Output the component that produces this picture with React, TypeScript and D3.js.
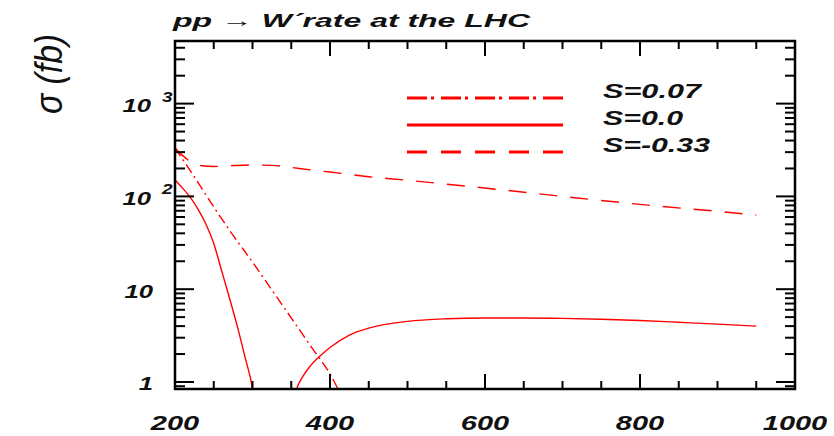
import React from 'react';
import * as d3 from 'd3';

const W = 834;
const H = 436;

// W' mass (GeV) on x, cross-section sigma (fb) on a log y axis
const xDomain = [200, 1000];
const yDomain = [0.84, 4730];
const xTickValues = d3.range(200, 1001, 50);
const xLabelValues = [200, 400, 600, 800, 1000];
const yLabelValues = [1, 10, 100, 1000];

// S = 0.07 (dash-dot)
const massDashDot = [200, 225, 250, 275, 300, 325, 350, 375, 400, 415];
const sigmaDashDot = [333, 162, 77, 38, 19.6, 9.8, 4.9, 2.44, 1.22, 0.7];

// S = 0.0 (solid), falling branch and rising branch around the interference zero
const massSolidLow = [200, 210, 220, 230, 240, 250, 260, 270, 280, 290, 300, 305];
const sigmaSolidLow = [150, 122, 97, 72, 50, 31, 16, 8.2, 4.1, 1.9, 0.84, 0.4];
const massSolidHigh = [350, 357, 365, 375, 390, 400, 425, 450, 500, 550, 600, 650, 700, 750, 800, 850, 900, 950];
const sigmaSolidHigh = [0.45, 0.84, 1.15, 1.5, 2.0, 2.35, 3.2, 3.8, 4.5, 4.8, 4.9, 4.9, 4.85, 4.75, 4.6, 4.4, 4.2, 4.0];

// S = -0.33 (dashed)
const massDashed = [200, 210, 220, 235, 250, 275, 300, 325, 350, 375, 400, 450, 500, 600, 700, 800, 900, 950];
const sigmaDashed = [333, 275, 237, 214, 210, 215, 218, 216, 205, 193, 183, 163, 149, 123, 100, 82, 69, 63];

const legendLabels = ['S=0.07', 'S=0.0', 'S=-0.33'];
const titleText = 'pp \u2192 W\u00B4rate at the LHC';
const yAxisTitle = '\u03C3 (fb)';

const RED = '#ff0000';
const FONT = '"Liberation Sans", Arial, Helvetica, sans-serif';

const plot = { left: 175, right: 795, top: 41, bottom: 389 };

const zip = (xs: number[], ys: number[]) => xs.map((m, i) => [m, ys[i]] as [number, number]);

export default function App() {
  const x = d3.scaleLinear().domain(xDomain).range([plot.left, plot.right]);
  const y = d3.scaleLog().domain(yDomain).range([plot.bottom, plot.top]);

  const line = d3
    .line<[number, number]>()
    .x((d) => x(d[0]))
    .y((d) => y(d[1]))
    .curve(d3.curveMonotoneX);

  const curves = [
    { data: zip(massDashDot, sigmaDashDot), dash: '10,4,2,4' },
    { data: zip(massSolidLow, sigmaSolidLow), dash: 'none' },
    { data: zip(massSolidHigh, sigmaSolidHigh), dash: 'none' },
    { data: zip(massDashed, sigmaDashed), dash: '18,13' },
  ];

  // log ticks: 1..9 x 10^k inside the domain
  const yTicks: { v: number; major: boolean }[] = [];
  for (let k = -1; k <= 3; k++) {
    for (let m = 1; m <= 9; m++) {
      const v = m * Math.pow(10, k);
      if (v >= yDomain[0] && v <= yDomain[1]) yTicks.push({ v, major: m === 1 });
    }
  }

  const legendDash = ['20,4,3,7', 'none', '20,14'];
  const legendY = [98, 125, 152];
  const legendTextLen = [98, 80, 107];

  const yLabStretch = 1.35;
  const xLabStretch = 1.38;

  return (
    <svg
      width={W}
      height={H}
      style={{ position: 'fixed', left: 0, top: 0, background: '#fff' }}
      fontFamily={FONT}
    >
      <defs>
        <clipPath id="plotClip">
          <rect x={plot.left} y={plot.top} width={plot.right - plot.left} height={plot.bottom - plot.top} />
        </clipPath>
      </defs>
      <rect x={0} y={0} width={W} height={H} fill="#fff" />

      {/* title */}
      <text
        x={173}
        y={27}
        fontSize={19}
        fontWeight="bold"
        fontStyle="italic"
        fill="#111"
        textLength={357}
        lengthAdjust="spacingAndGlyphs"
      >
        {titleText}
      </text>

      {/* y axis title, reading bottom to top */}
      <g transform="translate(62,74) scale(1.4,1) rotate(-90)">
        <text
          x={0}
          y={0}
          textAnchor="middle"
          fontSize={28}
          fontStyle="italic"
          fill="#111"
          textLength={80}
          lengthAdjust="spacingAndGlyphs"
        >
          {yAxisTitle}
        </text>
      </g>

      {/* curves */}
      <g clipPath="url(#plotClip)">
        {curves.map((c, i) => (
          <path
            key={i}
            d={line(c.data) || ''}
            fill="none"
            stroke={RED}
            strokeWidth={1.4}
            strokeDasharray={c.dash}
          />
        ))}
      </g>

      {/* ticks on all four sides, pointing inward */}
      <g stroke="#000" strokeWidth={2}>
        {xTickValues.map((v) => {
          const len = v % 200 === 0 ? 15 : 8;
          const px = x(v);
          return (
            <g key={v}>
              <line x1={px} x2={px} y1={plot.bottom} y2={plot.bottom - len} />
              <line x1={px} x2={px} y1={plot.top} y2={plot.top + len} />
            </g>
          );
        })}
        {yTicks.map((t) => {
          const len = t.major ? 19 : 10;
          const py = y(t.v);
          return (
            <g key={t.v}>
              <line x1={plot.left} x2={plot.left + len} y1={py} y2={py} />
              <line x1={plot.right} x2={plot.right - len} y1={py} y2={py} />
            </g>
          );
        })}
      </g>

      {/* frame */}
      <rect
        x={plot.left}
        y={plot.top}
        width={plot.right - plot.left}
        height={plot.bottom - plot.top}
        fill="none"
        stroke="#000"
        strokeWidth={2.5}
      />

      {/* x tick labels */}
      <g fontSize={21} fontWeight="bold" fontStyle="italic" fill="#111">
        {xLabelValues.map((v) => (
          <text key={v} transform={`translate(${x(v)},430) scale(${xLabStretch},1)`} textAnchor="middle">
            {String(v)}
          </text>
        ))}
      </g>

      {/* y tick labels */}
      <g fontWeight="bold" fontStyle="italic" fill="#111">
        {yLabelValues.map((v) => {
          const py = y(v);
          const exp = Math.round(Math.log10(v));
          if (exp <= 1) {
            return (
              <text
                key={v}
                transform={`translate(153,${py + 8.5}) scale(${yLabStretch},1)`}
                textAnchor="end"
                fontSize={19}
              >
                {String(v)}
              </text>
            );
          }
          return (
            <g key={v}>
              <text transform={`translate(151,${py + 8.5}) scale(${yLabStretch},1)`} textAnchor="end" fontSize={19}>
                10
              </text>
              <text transform={`translate(162,${py - 2}) scale(${yLabStretch},1)`} textAnchor="start" fontSize={14}>
                {String(exp)}
              </text>
            </g>
          );
        })}
      </g>

      {/* legend */}
      <g>
        {legendLabels.map((lab, i) => (
          <g key={lab}>
            <line
              x1={407}
              x2={563}
              y1={legendY[i]}
              y2={legendY[i]}
              stroke={RED}
              strokeWidth={3}
              strokeDasharray={legendDash[i]}
            />
            <text
              x={603}
              y={legendY[i]}
              fontSize={21}
              fontWeight="bold"
              fontStyle="italic"
              fill="#111"
              textLength={legendTextLen[i]}
              lengthAdjust="spacingAndGlyphs"
            >
              {lab}
            </text>
          </g>
        ))}
      </g>
    </svg>
  );
}
